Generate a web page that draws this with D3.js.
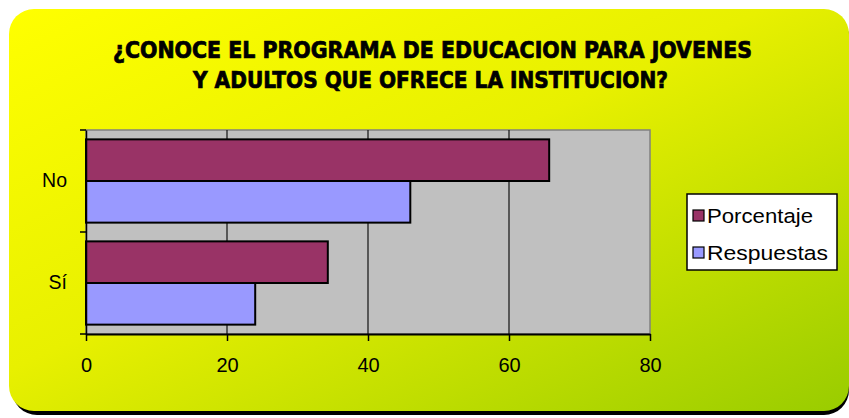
<!DOCTYPE html>
<html>
<head>
<meta charset="utf-8">
<script src="https://cdn.jsdelivr.net/npm/d3@7"></script>
<style>
  body { margin: 0; background: #fff; }
</style>
</head>
<body>
<div id="chart"></div>
<script>
var categories = ["No", "Sí"];
var seriesNames = ["Porcentaje", "Respuestas"];
var porcentaje = [65.7, 34.3];
var respuestas = [46, 24];
var xTicks = [0, 20, 40, 60, 80];
var titleLines = ["¿CONOCE EL PROGRAMA DE EDUCACION PARA JOVENES", "Y ADULTOS QUE OFRECE LA INSTITUCION?"];

var W = 849, H = 418;
var svg = d3.select("#chart").append("svg")
    .attr("width", W).attr("height", H);

var defs = svg.append("defs");
var grad = defs.append("linearGradient").attr("id", "bg")
    .attr("x1", "0%").attr("y1", "0%").attr("x2", "100%").attr("y2", "100%");
grad.append("stop").attr("offset", "0%").attr("stop-color", "#ffff00");
grad.append("stop").attr("offset", "45%").attr("stop-color", "#e8f000");
grad.append("stop").attr("offset", "100%").attr("stop-color", "#99cc00");

// shadow + background
svg.append("rect").attr("x", 12).attr("y", 12).attr("width", 837).attr("height", 403)
    .attr("rx", 25).attr("fill", "#000");
svg.append("rect").attr("x", 9).attr("y", 9).attr("width", 840).attr("height", 402)
    .attr("rx", 25).attr("fill", "url(#bg)");

// title
svg.append("g").selectAll("text")
    .data(titleLines)
    .enter().append("text")
    .attr("x", function(d, i) { return i == 0 ? 432.5 : 430.5; })
    .attr("y", function(d, i) { return 58 + i * 29.5; })
    .attr("text-anchor", "middle")
    .attr("font-family", "Liberation Sans Narrow, DejaVu Sans Condensed, sans-serif")
    .attr("font-weight", "bold")
    .attr("font-size", 23)
    .attr("textLength", function(d, i) { return i == 0 ? 639 : 475; })
    .attr("lengthAdjust", "spacingAndGlyphs")
    .attr("fill", "#000")
    .attr("stroke", "#000")
    .attr("stroke-width", 0.7)
    .text(function(d) { return d; });

var margin = {left: 86, top: 130};
var width = 564, height = 204;

var g = svg.append("g")
    .attr("transform", "translate(" + margin.left + "," + margin.top + ")");

var x = d3.scaleLinear().domain([0, 80]).range([0, width]);
var y = d3.scaleBand().domain(categories).range([0, height]).paddingInner(0).paddingOuter(0);
var sub = d3.scaleBand().domain(seriesNames).range([0, y.bandwidth()]).paddingInner(0).paddingOuter(0.225);

var color = d3.scaleOrdinal().domain(seriesNames).range(["#993366", "#9999ff"]);

// plot area
g.append("rect").attr("x", 0).attr("y", 0).attr("width", width).attr("height", height)
    .attr("fill", "#c0c0c0").attr("stroke", "#808080").attr("stroke-width", 1.5);

// grid lines
g.append("g").selectAll("line")
    .data(xTicks.slice(1, -1))
    .enter().append("line")
    .attr("x1", function(d) { return x(d); }).attr("x2", function(d) { return x(d); })
    .attr("y1", 0).attr("y2", height)
    .attr("stroke", "#111").attr("stroke-width", 1.2);

// bars
var data = categories.map(function(c, i) {
    return {cat: c, values: [{key: "Porcentaje", v: porcentaje[i]}, {key: "Respuestas", v: respuestas[i]}]};
});
g.append("g").selectAll("g")
    .data(data)
    .enter().append("g")
    .attr("transform", function(d) { return "translate(0," + y(d.cat) + ")"; })
    .selectAll("rect")
    .data(function(d) { return d.values; })
    .enter().append("rect")
    .attr("x", 0)
    .attr("y", function(d) { return sub(d.key); })
    .attr("width", function(d) { return x(d.v); })
    .attr("height", sub.bandwidth())
    .attr("fill", function(d) { return color(d.key); })
    .attr("stroke", "#000")
    .attr("stroke-width", 2);

// x axis
var xAxis = g.append("g")
    .attr("transform", "translate(0," + height + ")")
    .call(d3.axisBottom(x).tickValues(xTicks).tickSizeInner(7).tickSizeOuter(0).tickPadding(17));
xAxis.select(".domain").attr("stroke", "#000").attr("stroke-width", 2);
xAxis.selectAll(".tick line").attr("stroke-width", 1.5);
xAxis.selectAll("text").attr("font-family", "Liberation Sans, Arial, sans-serif").attr("font-size", 20).attr("fill", "#000");

// y axis
var yAxis = g.append("g")
    .call(d3.axisLeft(y).tickSize(0).tickPadding(19));
yAxis.select(".domain").attr("stroke", "#000").attr("stroke-width", 1.5);
yAxis.selectAll("text").attr("font-family", "Liberation Sans, Arial, sans-serif").attr("font-size", 19.5).attr("fill", "#000");
g.append("g").selectAll("line")
    .data([0, y.bandwidth(), height])
    .enter().append("line")
    .attr("x1", -6).attr("x2", 0)
    .attr("y1", function(d) { return d; }).attr("y2", function(d) { return d; })
    .attr("stroke", "#000").attr("stroke-width", 1.5);

// legend
var legend = svg.append("g").attr("transform", "translate(687,194)");
legend.append("rect").attr("x", 0).attr("y", 0).attr("width", 150).attr("height", 76)
    .attr("fill", "#fff").attr("stroke", "#000").attr("stroke-width", 1.5);
var items = legend.selectAll(".item")
    .data(seriesNames)
    .enter().append("g")
    .attr("transform", function(d, i) { return "translate(6," + (21 + i * 37) + ")"; });
items.append("rect").attr("x", 0).attr("y", -5).attr("width", 11).attr("height", 11)
    .attr("fill", function(d) { return color(d); }).attr("stroke", "#000").attr("stroke-width", 1.2);
items.append("text").attr("x", 14).attr("y", 1).attr("dy", "0.36em")
    .attr("font-family", "Liberation Sans, Arial, sans-serif").attr("font-size", 20.5)
    .attr("textLength", function(d, i) { return i == 0 ? 106 : 121; })
    .attr("lengthAdjust", "spacingAndGlyphs")
    .attr("fill", "#000")
    .text(function(d) { return d; });
</script>
</body>
</html>
